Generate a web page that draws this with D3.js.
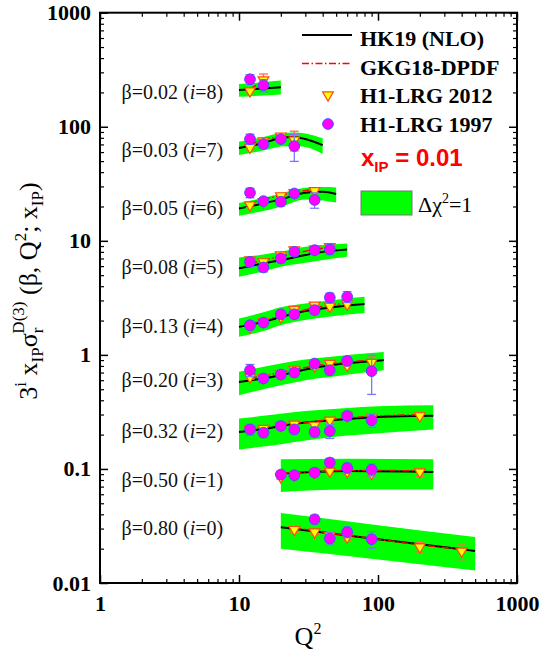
<!DOCTYPE html>
<html>
<head>
<meta charset="utf-8">
<script src="https://cdn.jsdelivr.net/npm/d3@7"></script>
<style>
  body { margin: 0; background: #fff; }
  text { font-family: "Liberation Serif", "Times New Roman", serif; }
</style>
</head>
<body>
<svg width="540" height="658"></svg>
<script>
// groups, index = i (beta bins, scaled by 3^i)
const betas = ["0.80", "0.50", "0.32", "0.20", "0.13", "0.08", "0.05", "0.03", "0.02"];
const labelVal = [0.0302, 0.0796, 0.214, 0.60, 1.79, 5.87, 19.4, 62.5, 201];

// HK19 (NLO) central curve + delta chi2 = 1 band, sampled at bandQ
const bandQ = [
  [20, 100, 500],
  [20, 60, 250],
  [10, 15, 20, 30, 60, 100, 250],
  [10, 20, 30, 50, 80, 110],
  [10, 15, 20, 30, 50, 80],
  [10, 15, 20, 30, 40, 60],
  [10, 15, 20, 30, 40, 50],
  [10, 15, 20, 25, 30, 40],
  [10, 15, 20]
];
const hk19 = [
  [0.0308, 0.0242, 0.0191],
  [0.0912, 0.096, 0.0942],
  [0.211, 0.224, 0.238, 0.255, 0.274, 0.285, 0.292],
  [0.579, 0.664, 0.745, 0.824, 0.869, 0.90],
  [1.76, 1.95, 2.15, 2.42, 2.64, 2.79],
  [5.73, 6.34, 6.77, 7.5, 8.0, 8.41],
  [19.2, 21.3, 23.1, 26.4, 26.9, 25.7],
  [65, 72, 79.6, 81.3, 78, 69],
  [210, 217, 222]
];
const bandLo = [
  [0.020, 0.0161, 0.0129],
  [0.0629, 0.066, 0.0659],
  [0.148, 0.157, 0.165, 0.178, 0.196, 0.206, 0.222],
  [0.443, 0.542, 0.60, 0.65, 0.70, 0.734],
  [1.44, 1.62, 1.82, 2.02, 2.2, 2.33],
  [4.83, 5.4, 5.92, 6.41, 6.8, 7.24],
  [16.6, 18.3, 19.9, 23.0, 22.6, 21.7],
  [56.5, 61.8, 67, 67.7, 66.4, 57.6],
  [183, 188, 192]
];
const bandHi = [
  [0.041, 0.0321, 0.0253],
  [0.1216, 0.123, 0.1216],
  [0.277, 0.292, 0.305, 0.322, 0.343, 0.354, 0.362],
  [0.71, 0.84, 0.91, 0.975, 1.03, 1.06],
  [2.08, 2.36, 2.61, 2.82, 3.05, 3.23],
  [7.15, 7.6, 8.0, 8.86, 9.2, 9.49],
  [21.5, 23.8, 26.0, 29.2, 29.6, 29.4],
  [73.8, 81.2, 88.1, 89, 87.2, 79.1],
  [237, 246, 254]
];

// GKG18-DPDF
const gkgQ = [
  [25, 35, 45, 60, 90, 200, 400],
  [20, 25, 35, 45, 60, 90, 200],
  [12, 15, 20, 25, 35, 45, 60, 90, 200],
  [12, 15, 20, 25, 35, 45, 60, 90],
  [12, 15, 20, 25, 35, 45, 60],
  [12, 15, 20, 25, 35, 45],
  [12, 15, 20, 25, 35],
  [12, 15, 20, 25],
  [12, 15]
];
const gkg18 = [
  [0.0302, 0.0287, 0.0274, 0.0263, 0.0246, 0.0216, 0.0197],
  [0.092, 0.093, 0.095, 0.096, 0.097, 0.097, 0.096],
  [0.218, 0.228, 0.242, 0.25, 0.262, 0.27, 0.28, 0.29, 0.298],
  [0.625, 0.655, 0.70, 0.74, 0.80, 0.835, 0.865, 0.90],
  [1.85, 2.0, 2.2, 2.35, 2.58, 2.72, 2.85],
  [6.3, 6.75, 7.3, 7.75, 8.4, 8.8],
  [21.2, 23.2, 25.0, 26.6, 28.3],
  [70, 77, 81, 81],
  [215, 252]
];

// H1-LRG 2012: [Q2, value, error]
const h1lrg2012 = [
  [[25, 0.0294, 0.0015], [35, 0.028, 0.0015], [45, 0.026, 0.0015], [60, 0.0253, 0.0015], [200, 0.0207, 0.002], [400, 0.019, 0.003]],
  [[20, 0.0851, 0.004], [25, 0.088, 0.004], [35, 0.093, 0.004], [45, 0.0955, 0.005], [60, 0.095, 0.005], [90, 0.0912, 0.005], [200, 0.0942, 0.008]],
  [[12, 0.222, 0.01], [15, 0.226, 0.01], [20, 0.24, 0.01], [25, 0.247, 0.012], [35, 0.241, 0.012], [45, 0.267, 0.013], [60, 0.29, 0.014], [90, 0.28, 0.015], [200, 0.292, 0.02]],
  [[12, 0.641, 0.03], [15, 0.63, 0.03], [20, 0.68, 0.03], [25, 0.747, 0.035], [35, 0.80, 0.04], [45, 0.84, 0.04], [60, 0.81, 0.04], [90, 0.857, 0.1]],
  [[12, 1.75, 0.08], [15, 1.95, 0.09], [20, 2.15, 0.1], [25, 2.5, 0.12], [35, 2.73, 0.13], [45, 2.67, 0.2], [60, 2.79, 0.2]],
  [[12, 6.8, 0.3], [15, 6.54, 0.3], [20, 7.5, 0.35], [25, 8.3, 0.4], [35, 8.45, 0.45], [45, 8.86, 0.5]],
  [[12, 20.6, 1.0], [15, 22, 1.0], [20, 24.8, 1.2], [25, 26.4, 1.3], [35, 27.5, 1.5]],
  [[12, 66, 3], [15, 75, 3.5], [20, 82.8, 4], [25, 76.4, 15]],
  [[12, 206, 10], [15, 257, 33]]
];

// H1-LRG 1997: [Q2, value, error]
const h1lrg1997 = [
  [[35, 0.0362, 0.003], [45, 0.0245, 0.003], [60, 0.028, 0.003], [90, 0.0242, 0.004]],
  [[20, 0.0893, 0.006], [25, 0.0881, 0.006], [35, 0.0929, 0.007], [45, 0.1138, 0.01], [60, 0.102, 0.01], [90, 0.0987, 0.012]],
  [[12, 0.222, 0.025], [15, 0.208, 0.018], [20, 0.238, 0.018], [25, 0.222, 0.018], [35, 0.211, 0.02], [45, 0.215, 0.03], [60, 0.292, 0.025], [90, 0.267, 0.035]],
  [[12, 0.734, 0.09], [15, 0.621, 0.05], [20, 0.673, 0.06], [25, 0.70, 0.06], [35, 0.84, 0.06], [45, 0.734, 0.07], [60, 0.885, 0.08], [90, 0.72, 0.27]],
  [[12, 1.82, 0.15], [15, 1.92, 0.15], [20, 2.27, 0.17], [25, 2.27, 0.18], [35, 2.47, 0.2], [45, 3.18, 0.3], [60, 3.23, 0.35]],
  [[12, 6.54, 0.6], [15, 5.84, 0.5], [20, 7.01, 0.6], [25, 8.01, 0.6], [35, 8.28, 0.7], [45, 8.41, 0.9]],
  [[12, 26.4, 2.5], [15, 22.3, 1.5], [20, 22.0, 1.8], [25, 26.0, 1.8], [35, 22.8, 3.5]],
  [[12, 78, 8], [15, 70.5, 5], [20, 78, 5], [25, 67.7, 18]],
  [[12, 261, 25], [15, 231, 28]]
];

const xTicks = [1, 10, 100, 1000];
const yTicks = [0.01, 0.1, 1, 10, 100, 1000];

const svg = d3.select("svg");
const x = d3.scaleLog().domain([1, 1000]).range([100, 517]);
const y = d3.scaleLog().domain([0.01, 1000]).range([583, 12.7]);

const green = "#00ff00";
const magenta = "#ff00ff";
const blueBar = "#7878ff";
const yellow = "#ffff00";
const orange = "#ff4a10";
const redBar = "#ff6a50";

// bands
const area = d3.area()
  .x(d => x(d.q)).y0(d => y(d.lo)).y1(d => y(d.hi))
  .curve(d3.curveMonotoneX);
const line = d3.line().x(d => x(d.q)).y(d => y(d.v)).curve(d3.curveMonotoneX);

const groups = betas.map((b, i) => ({
  i,
  band: bandQ[i].map((q, k) => ({ q, lo: bandLo[i][k], hi: bandHi[i][k], v: hk19[i][k] })),
  gkg: gkgQ[i].map((q, k) => ({ q, v: gkg18[i][k] }))
}));

svg.append("g").selectAll("path").data(groups).enter().append("path")
  .attr("d", d => area(d.band))
  .attr("fill", green);

svg.append("g").selectAll("path").data(groups).enter().append("path")
  .attr("d", d => line(d.band))
  .attr("fill", "none").attr("stroke", "#000").attr("stroke-width", 2);

svg.append("g").selectAll("path").data(groups).enter().append("path")
  .attr("d", d => line(d.gkg))
  .attr("fill", "none").attr("stroke", "#ff0000").attr("stroke-width", 1.5)
  .attr("stroke-dasharray", "7,2.5,1.5,2.5");

// error bars
function errorBars(g, pts, color) {
  const eb = g.selectAll("g.eb").data(pts).enter().append("g")
    .attr("stroke", color).attr("stroke-width", 1.3).attr("fill", "none");
  eb.append("line")
    .attr("x1", d => x(d[0])).attr("x2", d => x(d[0]))
    .attr("y1", d => y(d[1] + d[2])).attr("y2", d => y(Math.max(d[1] - d[2], 0.001)));
  eb.append("line")
    .attr("x1", d => x(d[0]) - 4.5).attr("x2", d => x(d[0]) + 4.5)
    .attr("y1", d => y(d[1] + d[2])).attr("y2", d => y(d[1] + d[2]));
  eb.append("line")
    .attr("x1", d => x(d[0]) - 4.5).attr("x2", d => x(d[0]) + 4.5)
    .attr("y1", d => y(d[1] - d[2])).attr("y2", d => y(d[1] - d[2]));
}

const tri = d3.symbol().type(d3.symbolTriangle).size(50);
const circ = d3.symbol().type(d3.symbolCircle).size(90);

const pts2012 = h1lrg2012.flat();
const pts1997 = h1lrg1997.flat();

const gT = svg.append("g");
errorBars(gT, pts2012, redBar);
gT.selectAll("path.m").data(pts2012).enter().append("path")
  .attr("class", "m")
  .attr("d", tri)
  .attr("transform", d => `translate(${x(d[0])},${y(d[1])}) rotate(180)`)
  .attr("fill", yellow).attr("stroke", orange).attr("stroke-width", 1.2);

const gC = svg.append("g");
errorBars(gC, pts1997, blueBar);
gC.selectAll("path.m").data(pts1997).enter().append("path")
  .attr("class", "m")
  .attr("d", circ)
  .attr("transform", d => `translate(${x(d[0])},${y(d[1])})`)
  .attr("fill", magenta).attr("stroke", "#4a4aff").attr("stroke-width", 1);

// group labels
const lab = svg.append("g").selectAll("text").data(betas).enter().append("text")
  .attr("x", x(1.43))
  .attr("y", (d, i) => y(labelVal[i]))
  .attr("dy", "0.35em")
  .attr("font-size", 20)
  .attr("fill", "#111");
lab.append("tspan").text(d => `β=${d} (`);
lab.append("tspan").attr("font-style", "italic").text("i");
lab.append("tspan").text((d, i) => `=${i})`);

// axes: inward ticks on all four sides
function minors(lo, hi) {
  const out = [];
  for (let e = lo; e < hi; e++) for (let m = 2; m <= 9; m++) out.push(m * Math.pow(10, e));
  return out;
}
const xMinor = minors(0, 3);
const yMinor = minors(-2, 3);
const tickFont = g => g.selectAll("text")
  .attr("font-family", "'Liberation Serif', 'Times New Roman', serif")
  .attr("font-weight", "bold").attr("font-size", 22).attr("fill", "#000");

const axes = [
  [d3.axisBottom(x), "translate(0,583)", xTicks, xMinor, true, d3.format("")],
  [d3.axisTop(x), "translate(0,12.7)", xTicks, xMinor, false],
  [d3.axisLeft(y), "translate(100,0)", yTicks, yMinor, true, d => d < 1 ? String(d) : d3.format("")(d)],
  [d3.axisRight(y), "translate(517,0)", yTicks, yMinor, false]
];
axes.forEach(([ax, tr, major, minor, labels, fmt]) => {
  const gMaj = svg.append("g").attr("transform", tr)
    .call(ax.tickValues(major).tickSizeInner(-8).tickSizeOuter(0)
      .tickPadding(labels ? (tr.startsWith("translate(0") ? 12 : 9) : 0)
      .tickFormat(labels ? fmt : () => ""));
  gMaj.select(".domain").remove();
  gMaj.selectAll("line").attr("stroke-width", 1.5);
  tickFont(gMaj);
  const gMin = svg.append("g").attr("transform", tr)
    .call(ax.tickValues(minor).tickSizeInner(-4).tickSizeOuter(0).tickFormat(() => ""));
  gMin.select(".domain").remove();
  gMin.selectAll("line").attr("stroke-width", 1.2);
});

svg.append("rect")
  .attr("x", 100).attr("y", 12.7).attr("width", 417).attr("height", 570.3)
  .attr("fill", "none").attr("stroke", "#000").attr("stroke-width", 2);

// axis titles
const xt = svg.append("text").attr("x", 308).attr("y", 645)
  .attr("text-anchor", "middle").attr("font-size", 26);
xt.append("tspan").text("Q");
xt.append("tspan").attr("font-size", 16).attr("dy", -11).text("2");

const yt = svg.append("text")
  .attr("transform", "translate(37,291) rotate(-90)")
  .attr("text-anchor", "middle").attr("font-size", 26);
yt.append("tspan").text("3");
yt.append("tspan").attr("font-size", 17).attr("dy", -11).text("i");
yt.append("tspan").attr("dy", 11).text(" x");
yt.append("tspan").attr("font-size", 17).attr("dy", 6).text("IP");
yt.append("tspan").attr("dy", -6).text("σ");
yt.append("tspan").attr("font-size", 17).attr("dy", 6).text("r");
yt.append("tspan").attr("font-size", 17).attr("dx", -6).attr("dy", -19).text("D(3)");
yt.append("tspan").attr("dy", 13).text(" (β, Q");
yt.append("tspan").attr("font-size", 17).attr("dy", -11).text("2");
yt.append("tspan").attr("dy", 11).text("; x");
yt.append("tspan").attr("font-size", 17).attr("dy", 6).text("IP");
yt.append("tspan").attr("dy", -6).text(")");

// legend
const leg = svg.append("g");
leg.append("line").attr("x1", 302).attr("x2", 352).attr("y1", 35).attr("y2", 35)
  .attr("stroke", "#000").attr("stroke-width", 2);
leg.append("line").attr("x1", 302).attr("x2", 352).attr("y1", 63.5).attr("y2", 63.5)
  .attr("stroke", "#ff0000").attr("stroke-width", 1.5).attr("stroke-dasharray", "7,2.5,1.5,2.5");
leg.append("path").attr("d", tri).attr("transform", "translate(328,95) rotate(180)")
  .attr("fill", yellow).attr("stroke", orange).attr("stroke-width", 1.2);
leg.append("path").attr("d", circ).attr("transform", "translate(328,124)")
  .attr("fill", magenta).attr("stroke", "#4a4aff").attr("stroke-width", 1);
const legNames = ["HK19 (NLO)", "GKG18-DPDF", "H1-LRG 2012", "H1-LRG 1997"];
const legY = [46, 75, 103, 131.5];
leg.selectAll("text.n").data(legNames).enter().append("text")
  .attr("x", 360).attr("y", (d, i) => legY[i])
  .attr("font-size", 22).attr("font-weight", "bold").text(d => d);

const xip = leg.append("text").attr("x", 361).attr("y", 166)
  .attr("fill", "#ff0000").attr("font-weight", "bold").attr("font-size", 24)
  .style("font-family", "'Liberation Sans', Arial, sans-serif");
xip.append("tspan").text("x");
xip.append("tspan").attr("font-size", 15).attr("dy", 6).text("IP");
xip.append("tspan").attr("dy", -6).text(" = 0.01");

leg.append("rect").attr("x", 361).attr("y", 191).attr("width", 51).attr("height", 24)
  .attr("fill", green).attr("stroke", "#777").attr("stroke-width", 1);
const dch = leg.append("text").attr("x", 418).attr("y", 212).attr("font-size", 22);
dch.append("tspan").text("Δχ");
dch.append("tspan").attr("font-size", 14).attr("dy", -9).text("2");
dch.append("tspan").attr("dy", 9).text("=1");
</script>
</body>
</html>
